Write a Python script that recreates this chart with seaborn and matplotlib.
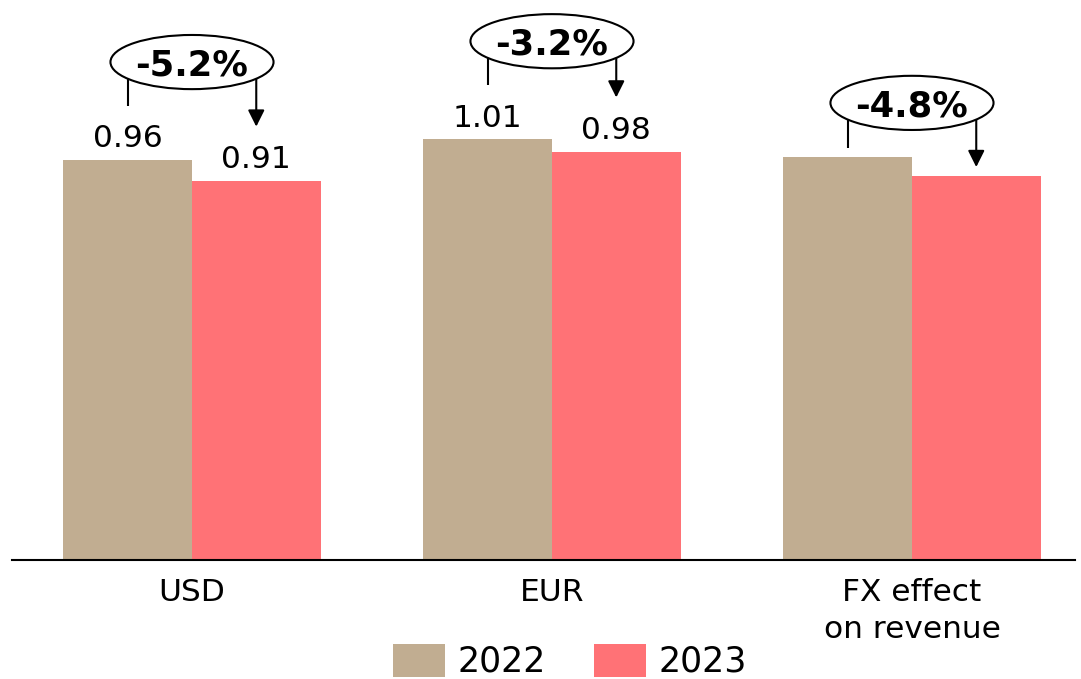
import matplotlib
matplotlib.use("Agg")
import matplotlib.pyplot as plt
from matplotlib.patches import Ellipse, Patch
import seaborn as sns
import pandas as pd

# Data
categories = ["USD", "EUR", "FX effect\non revenue"]
years = ["2022", "2023"]
values_2022 = [0.96, 1.01, 0.967]
values_2023 = [0.91, 0.98, 0.921]
show_value_labels = [True, True, False]
change_labels = ["-5.2%", "-3.2%", "-4.8%"]

colors = {"2022": "#C1AD91", "2023": "#FF7276"}

df = pd.DataFrame({
    "category": categories * 2,
    "year": ["2022"] * 3 + ["2023"] * 3,
    "value": values_2022 + values_2023,
})

sns.set_theme(style="white")
plt.rcParams["font.family"] = ["DejaVu Sans"]
plt.rcParams["text.color"] = "black"

fig = plt.figure(figsize=(10.81, 6.79), dpi=100)
ax = fig.add_axes([12 / 1081, 119 / 679, 1063 / 1081, 541.7 / 679])

group_width = 0.714
sns.barplot(data=df, x="category", y="value", hue="year", order=categories,
            hue_order=years, palette=colors, width=group_width, saturation=1,
            linewidth=0, legend=False, ax=ax)

ax.set_xlim(-0.5, 2.4528)
ax.set_ylim(0, 1.3)
ax.set_xlabel("")
ax.set_ylabel("")
ax.set_yticks([])
for side in ["top", "left", "right"]:
    ax.spines[side].set_visible(False)
ax.spines["bottom"].set_color("black")
ax.spines["bottom"].set_linewidth(1.5)
ax.tick_params(axis="x", length=0, pad=13, labelsize=22.5, labelcolor="black")
for lbl in ax.get_xticklabels():
    lbl.set_linespacing(1.35)

half = group_width / 4  # offset from group centre to each bar centre
for i, (v0, v1) in enumerate(zip(values_2022, values_2023)):
    x0, x1 = i - half, i + half
    labeled = show_value_labels[i]
    if labeled:
        for x, v in ((x0, v0), (x1, v1)):
            ax.annotate(f"{v:.2f}", xy=(x, v), xytext=(0, 9),
                        textcoords="offset points", ha="center",
                        va="baseline", fontsize=22.5, color="black")
    end_gap = 0.13 if labeled else 0.022
    ell_gap = 0.235 if labeled else 0.13
    yc = max(v0, v1) + ell_gap
    # bracket: plain stem on the left, arrow on the right
    ax.plot([x0, x0], [yc, v0 + end_gap], color="black", lw=1.5,
            solid_capstyle="butt", zorder=3, clip_on=False)
    ax.annotate("", xy=(x1, v1 + end_gap), xytext=(x1, yc),
                arrowprops=dict(arrowstyle="-|>,head_length=1.0,head_width=0.5",
                                lw=1.5, color="black", shrinkA=0, shrinkB=0,
                                mutation_scale=10),
                zorder=3, annotation_clip=False)
    ax.add_patch(Ellipse((i, yc), width=0.453, height=0.13, facecolor="white",
                         edgecolor="black", lw=1.5, zorder=4, clip_on=False))
    ax.text(i, yc, change_labels[i], ha="center", va="center_baseline",
            fontsize=25.5, fontweight="bold", color="black", zorder=5)

handles = [Patch(facecolor=colors[y], edgecolor="none", label=y) for y in years]
fig.legend(handles=handles, loc="lower center", bbox_to_anchor=(0.527, 0.0),
           ncol=2, frameon=False, fontsize=25, handlelength=1.5,
           handleheight=1.1, handletextpad=0.35, columnspacing=1.4,
           borderpad=0, borderaxespad=0, labelcolor="black")

fig.savefig("out.png", dpi=100)
